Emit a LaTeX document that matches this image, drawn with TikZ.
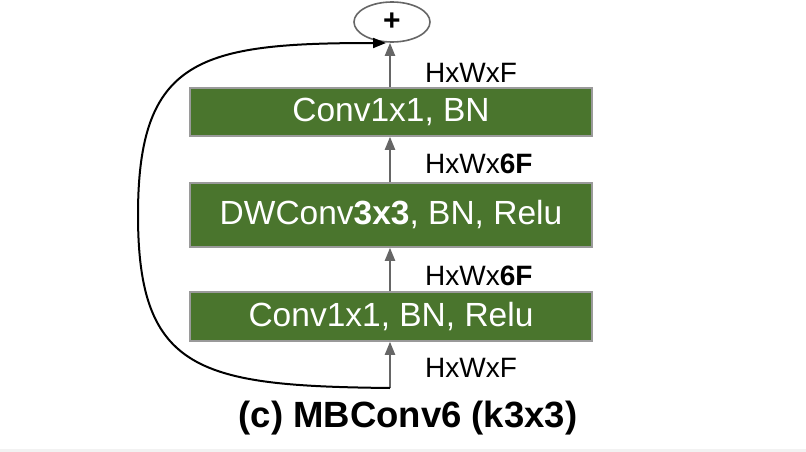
\documentclass[tikz,border=0pt]{standalone}
\usepackage{fontspec}
\setmainfont{Liberation Sans}
\usetikzlibrary{arrows.meta,shapes.geometric}
\definecolor{boxgreen}{HTML}{4A752D}
\definecolor{boxedge}{HTML}{9A9A9A}
\definecolor{arrgray}{HTML}{666666}
\begin{document}
\begin{tikzpicture}[x=1pt,y=-1pt,
 blk/.style={draw=boxedge,line width=1.5pt,fill=boxgreen,text=white,minimum width=402pt,inner sep=0pt,font=\fontsize{33.5}{40}\selectfont},
 dim/.style={anchor=base west,inner sep=0pt,font=\fontsize{28}{34}\selectfont},
 flow/.style={draw=arrgray,line width=2pt,-{Triangle[length=13pt,width=10pt]}},
 skipline/.style={draw=black,line width=2pt,-{Triangle[length=13pt,width=10pt]}}]
\useasboundingbox (0,0) rectangle (806,452);
\fill[gray!10] (0,449) rectangle (806,452);
\node[blk,minimum height=48pt] (c1) at (391,112) {Conv1x1, BN};
\node[blk,minimum height=64pt] (dw) at (391,215) {DWConv\textbf{3x3}, BN, Relu};
\node[blk,minimum height=49pt] (c0) at (391,316.5) {Conv1x1, BN, Relu};
\node[draw=arrgray,line width=1.6pt,ellipse,minimum width=76pt,minimum height=40pt,inner sep=0pt,font=\bfseries\fontsize{30}{34}\selectfont] (plus) at (392,22) {+};
\coordinate (in) at (390,388);
\coordinate (skipend) at (386,43);
\draw[flow] (in) -- (in |- c0.south);
\draw[flow] (in |- c0.north) -- (in |- dw.south);
\draw[flow] (in |- dw.north) -- (in |- c1.south);
\draw[flow] (in |- c1.north) -- (in |- plus.south);
\draw[skipline] (in) .. controls (200,386) and (138,372) .. (138,215) .. controls (138,58) and (200,43) .. (skipend);
\node[dim] (l4) at (425,82) {HxWxF};
\node[dim] (l3) at (425,173) {HxWx\textbf{6F}};
\node[dim] (l2) at (425,285) {HxWx\textbf{6F}};
\node[dim] (l1) at (425,377) {HxWxF};
\node[anchor=base,inner sep=0pt,font=\bfseries\fontsize{36.5}{42}\selectfont] (title) at (408,427) {(c) MBConv6 (k3x3)};
\end{tikzpicture}
\end{document}
